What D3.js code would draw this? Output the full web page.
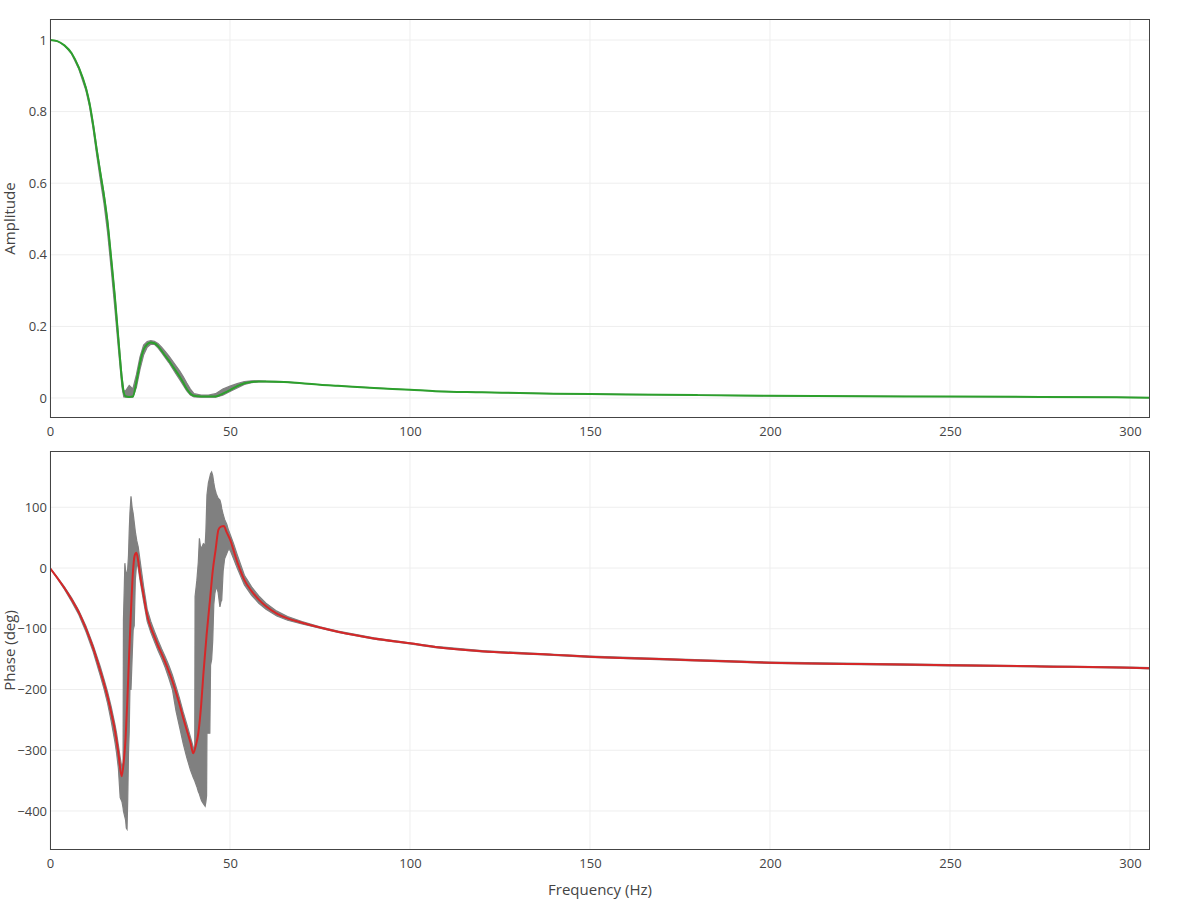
<!DOCTYPE html>
<html>
<head>
<meta charset="utf-8">
<script src="https://cdn.jsdelivr.net/npm/d3@7"></script>
<style>
  html, body { margin: 0; padding: 0; background: #fff; }
  text { font-family: "Open Sans", "Noto Sans", sans-serif; fill: #444; }
</style>
</head>
<body>
<svg id="chart" width="1200" height="900"></svg>
<script>
// ---------------- DATA ----------------
const ampFreq = [0, 2, 4, 6, 8, 10, 11, 12, 13, 14, 15, 16, 17, 18, 19, 20, 20.5, 21, 22, 23, 24, 25, 26, 27, 28, 29, 30, 31, 32, 33, 34, 35, 36, 37, 38, 39, 40, 42, 44, 46, 48, 50, 52, 54, 56, 58, 60, 65, 70, 75, 80, 90, 100, 107, 120, 140, 160, 180, 200, 225, 250, 275, 300, 305.6];
const amplitude = [1.000, 0.997, 0.985, 0.963, 0.923, 0.865, 0.822, 0.762, 0.692, 0.628, 0.565, 0.490, 0.390, 0.285, 0.165, 0.050, 0.015, 0.005, 0.003, 0.004, 0.045, 0.098, 0.135, 0.150, 0.155, 0.153, 0.145, 0.132, 0.118, 0.105, 0.090, 0.075, 0.060, 0.043, 0.025, 0.012, 0.006, 0.004, 0.004, 0.004, 0.012, 0.022, 0.033, 0.041, 0.045, 0.046, 0.046, 0.045, 0.041, 0.037, 0.034, 0.028, 0.023, 0.019, 0.016, 0.012, 0.010, 0.008, 0.006, 0.005, 0.004, 0.003, 0.0015, 0.001];
const ampLow = [1.000, 0.997, 0.985, 0.961, 0.919, 0.858, 0.813, 0.750, 0.677, 0.608, 0.543, 0.462, 0.360, 0.252, 0.138, 0.030, 0.003, 0.002, 0.002, 0.002, 0.030, 0.080, 0.120, 0.142, 0.150, 0.150, 0.140, 0.127, 0.113, 0.099, 0.083, 0.067, 0.052, 0.036, 0.020, 0.008, 0.003, 0.002, 0.002, 0.002, 0.008, 0.018, 0.028, 0.038, 0.043, 0.045, 0.045, 0.044, 0.041, 0.037, 0.034, 0.028, 0.023, 0.019, 0.016, 0.012, 0.010, 0.008, 0.006, 0.005, 0.004, 0.003, 0.0015, 0.001];
const ampHigh = [1.000, 0.997, 0.985, 0.964, 0.925, 0.868, 0.826, 0.768, 0.698, 0.633, 0.572, 0.497, 0.395, 0.292, 0.172, 0.060, 0.020, 0.020, 0.035, 0.025, 0.065, 0.115, 0.148, 0.158, 0.160, 0.158, 0.152, 0.142, 0.130, 0.118, 0.104, 0.090, 0.076, 0.060, 0.042, 0.025, 0.012, 0.008, 0.008, 0.012, 0.025, 0.033, 0.040, 0.046, 0.048, 0.048, 0.047, 0.046, 0.041, 0.037, 0.034, 0.028, 0.023, 0.019, 0.016, 0.012, 0.010, 0.008, 0.006, 0.005, 0.004, 0.003, 0.0015, 0.001];

const phaseFreq = [0, 2, 4, 6, 8, 10, 12, 14, 15, 16, 17, 18, 19, 19.9, 20.5, 21, 21.5, 22, 22.5, 23, 23.5, 24, 24.5, 25, 26, 27, 28, 29, 30, 31, 32, 33, 34, 35, 36, 37, 38, 39, 39.8, 40.5, 41.2, 42, 42.6, 43.5, 44.4, 45.2, 46, 46.8, 47.5, 48.3, 49, 50, 52, 54, 56, 58, 60, 63, 66, 70, 75, 80, 90, 100, 107, 120, 140, 150, 175, 200, 225, 250, 275, 300, 305.6];
const phase = [0, -16, -33, -52, -73, -100, -132, -170, -190, -212, -238, -266, -305, -343, -318, -280, -215, -140, -70, -10, 20, 25, 12, -10, -45, -78, -98, -113, -128, -141, -155, -170, -186, -205, -225, -247, -267, -287, -305, -292, -272, -225, -175, -110, -55, -5, 30, 63, 68, 69, 60, 47, 10, -20, -38, -52, -63, -75, -83, -90, -98, -105, -116, -124, -130, -137, -143, -146, -151, -156, -158, -160, -162, -164, -165];

const bandFreq = [0, 2, 4, 6, 8, 10, 12, 14, 15, 16, 17, 18, 18.5, 19, 19.5, 20, 20.3, 20.4, 20.6, 20.8, 21.0, 21.2, 21.4, 21.6, 21.8, 22.0, 22.2, 22.5, 22.8, 23.1, 23.4, 23.7, 24.1, 24.5, 25, 26, 27, 28, 29, 30, 31, 32, 33, 34, 35, 36, 37, 38, 39, 39.8, 40.2, 40.3, 40.8, 41.2, 41.5, 41.8, 42.1, 42.6, 43.1, 43.3, 43.5, 43.6, 44.0, 44.4, 44.6, 44.9, 45.2, 45.5, 45.8, 46.2, 46.7, 47.2, 47.5, 47.7, 48.1, 48.5, 49.1, 49.5, 50, 51, 52, 54, 56, 58, 60, 63, 66, 70, 75, 80, 90, 100, 107, 120, 140, 150, 175, 200, 225, 250, 275, 300, 305.6];
const phaseLow = [0, -17, -35, -55, -77, -105, -138, -178, -199, -223, -252, -285, -305, -330, -378, -385, -395, -400, -405, -410, -415, -428, -430, -380, -305, -270, -200, -200, -150, -102, -95, -20, 10, 0, -20, -55, -88, -106, -121, -136, -149, -164, -181, -200, -235, -262, -289, -312, -332, -345, -350, -352, -360, -368, -372, -378, -383, -388, -392, -385, -375, -272, -272, -272, -160, -151, -120, -60, -42, -30, -40, -64, -55, -53, -5, 15, 24, 30, 30, 15, 0, -28, -45, -58, -68, -79, -86, -92, -99, -106, -117, -125, -131, -138, -144, -147, -152, -157, -159, -161, -163, -165, -166];
const phaseHigh = [0, -15, -31, -49, -70, -96, -127, -163, -183, -204, -228, -256, -272, -292, -312, -330, -320, -86, -40, 8, -5, -10, -8, 0, 20, 60, 90, 118, 100, 90, 75, 60, 45, 35, 13, -30, -68, -88, -104, -119, -133, -146, -160, -176, -195, -215, -237, -257, -278, -295, -300, -47, -20, 10, 49, 35, 33, 40, 38, 60, 100, 120, 140, 150, 155, 158, 152, 140, 130, 122, 115, 112, 105, 98, 88, 80, 72, 64, 56, 40, 22, -12, -31, -46, -58, -71, -80, -88, -97, -104, -115, -123, -129, -136, -142, -145, -150, -155, -157, -159, -161, -163, -164];

const xTicks = [0, 50, 100, 150, 200, 250, 300];
const ampTicks = [0, 0.2, 0.4, 0.6, 0.8, 1];
const phaseTicks = [-400, -300, -200, -100, 0, 100];

// ---------------- LAYOUT ----------------
const svg = d3.select("#chart");
const left = 50, right = 1150;
const top1 = 19, bot1 = 418;
const top2 = 451, bot2 = 850;

const x = d3.scaleLinear().domain([0, 305.56]).range([left, right]);
const yA = d3.scaleLinear().domain([-0.0559, 1.0587]).range([bot1, top1]);
const yP = d3.scaleLinear().domain([-464.2, 192.6]).range([bot2, top2]);

const defs = svg.append("defs");
defs.append("clipPath").attr("id", "clip1").append("rect")
  .attr("x", left).attr("y", top1).attr("width", right - left).attr("height", bot1 - top1);
defs.append("clipPath").attr("id", "clip2").append("rect")
  .attr("x", left).attr("y", top2).attr("width", right - left).attr("height", bot2 - top2);

const fmtMinus = d => (d < 0 ? "\u2212" + Math.abs(d) : String(d));

function panel(y, top, bot, yTicks, clipId, freq, lo, hi, lineFreq, vals, color) {
  const g = svg.append("g");
  // grid
  g.append("g").selectAll("line").data(xTicks).join("line")
    .attr("x1", d => x(d)).attr("x2", d => x(d)).attr("y1", top).attr("y2", bot)
    .attr("stroke", "#eee").attr("stroke-width", 1);
  g.append("g").selectAll("line").data(yTicks).join("line")
    .attr("x1", left).attr("x2", right).attr("y1", d => y(d)).attr("y2", d => y(d))
    .attr("stroke", "#eee").attr("stroke-width", 1);

  const plot = g.append("g").attr("clip-path", `url(#${clipId})`);
  const band = freq.map((f, i) => ({ f, lo: lo[i], hi: hi[i] }));
  plot.append("path").datum(band)
    .attr("d", d3.area().x(d => x(d.f)).y0(d => y(d.lo)).y1(d => y(d.hi)))
    .attr("fill", "#808080").attr("stroke", "#808080").attr("stroke-width", 1.2);
  const pts = lineFreq.map((f, i) => ({ f, v: vals[i] }));
  plot.append("path").datum(pts)
    .attr("d", d3.line().x(d => x(d.f)).y(d => y(d.v)).curve(d3.curveMonotoneX))
    .attr("fill", "none").attr("stroke", color).attr("stroke-width", 2);

  // axes
  const xa = g.append("g").attr("transform", `translate(0,${bot})`)
    .call(d3.axisBottom(x).tickValues(xTicks).tickSize(0).tickPadding(9).tickFormat(d3.format("d")));
  xa.select(".domain").remove();
  xa.selectAll("text").attr("font-size", 13).attr("fill", "#444")
    .style("font-family", '"Open Sans", sans-serif');
  const ya = g.append("g").attr("transform", `translate(${left},0)`)
    .call(d3.axisLeft(y).tickValues(yTicks).tickSize(0).tickPadding(3).tickFormat(fmtMinus));
  ya.select(".domain").remove();
  ya.selectAll("text").attr("font-size", 13).attr("fill", "#444")
    .style("font-family", '"Open Sans", sans-serif');

  // frame
  g.append("rect").attr("x", left + 0.5).attr("y", top + 0.5)
    .attr("width", right - left - 1).attr("height", bot - top - 1)
    .attr("fill", "none").attr("stroke", "#444").attr("stroke-width", 1);
}

panel(yA, top1, bot1, ampTicks, "clip1", ampFreq, ampLow, ampHigh, ampFreq, amplitude, "#2ca02c");
panel(yP, top2, bot2, phaseTicks, "clip2", bandFreq, phaseLow, phaseHigh, phaseFreq, phase, "#d62728");

// titles
svg.append("text").attr("transform", `translate(15,${(top1 + bot1) / 2}) rotate(-90)`)
  .attr("text-anchor", "middle").attr("font-size", 15).text("Amplitude");
svg.append("text").attr("transform", `translate(15,${(top2 + bot2) / 2}) rotate(-90)`)
  .attr("text-anchor", "middle").attr("font-size", 15).text("Phase (deg)");
svg.append("text").attr("x", (left + right) / 2).attr("y", 895)
  .attr("text-anchor", "middle").attr("font-size", 15).text("Frequency (Hz)");
</script>
</body>
</html>
